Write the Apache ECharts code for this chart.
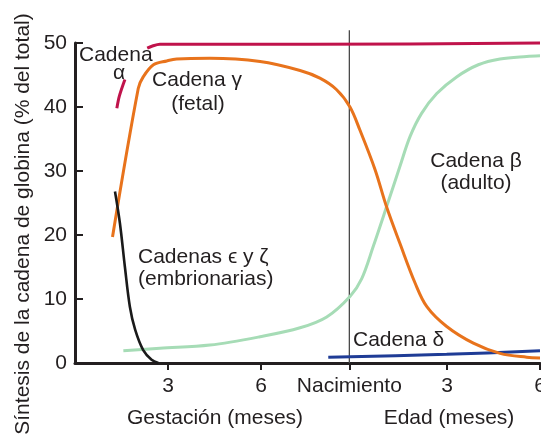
<!DOCTYPE html>
<html style="height: 100%">
<head>
    <meta charset="utf-8">
</head>
<body style="height: 100%; margin: 0; background: #fff">
<div id="container" style="width: 541px; height: 436px"></div>

<script type="text/javascript" src="https://cdn.jsdelivr.net/npm/echarts@6.0.0/dist/echarts.min.js"></script>
<script type="text/javascript">
    // x = months since conception, birth ~ 8.85
    var tickPositions = [3, 6, 8.85, 12, 15];
    var tickLabels = ['3', '6', 'Nacimiento', '3', '6'];
    var birthLine = [[8.85, 0], [8.85, 52]];

    var alphaLow = [[1.35, 39.8], [1.43, 41.7], [1.61, 44.3]];
    var alphaHigh = [[2.33, 49.2], [2.48, 49.5], [2.74, 49.8], [4.03, 49.8], [7.58, 49.8], [15, 50.0]];
    var gamma = [[1.21, 19.7], [2.04, 42.9], [2.20, 44.7], [2.53, 46.6], [2.96, 47.2], [3.28, 47.5],
        [4.35, 47.6], [5.97, 47.1], [7.26, 45.7], [7.90, 44.5], [8.44, 42.7], [8.87, 40.0],
        [9.19, 36.4], [9.68, 30.2], [10.05, 24.4], [10.48, 18.7], [10.97, 12.5], [11.35, 8.8],
        [11.99, 5.7], [12.85, 3.1], [13.71, 1.5], [14.57, 0.9], [15, 0.8]];
    var epsilonZeta = [[1.29, 26.8], [1.45, 21.8], [1.61, 15.0], [1.77, 8.8], [1.94, 5.2],
        [2.20, 2.0], [2.47, 0.5], [2.69, 0]];
    var beta = [[1.56, 1.9], [2.74, 2.3], [4.35, 2.8], [5.97, 4.1], [7.26, 5.5], [8.12, 7.2],
        [8.87, 10.4], [9.25, 13.2], [9.62, 18.2], [10.05, 24.4], [10.48, 30.7], [10.81, 35.4],
        [11.18, 39.0], [11.67, 42.1], [12.31, 44.7], [13.01, 46.6], [13.71, 47.5], [14.57, 47.9],
        [15, 48.0]];
    var delta = [[8.17, 0.9], [11.99, 1.36], [15, 1.9]];

    var dom = document.getElementById("container");
    var myChart = echarts.init(dom);
    var font = 'Liberation Sans, Arial, Helvetica, sans-serif';
    var ink = '#231f20';

    function curve(data, color, width, smooth) {
        return {
            type: 'line',
            data: data,
            showSymbol: false,
            symbol: 'none',
            smooth: smooth,
            silent: true,
            clip: false,
            lineStyle: {color: color, width: width}
        };
    }

    function label(text, x, y, align) {
        return {
            type: 'text',
            x: x,
            y: y,
            style: {
                text: text,
                fontSize: 21,
                fontFamily: font,
                fill: ink,
                align: align || 'center',
                verticalAlign: 'middle'
            }
        };
    }

    var option = {
        animation: false,
        grid: {left: 75, right: 1, top: 43, bottom: 73, containLabel: false, outerBoundsMode: 'none'},
        xAxis: {
            type: 'value',
            min: 0,
            max: 15,
            splitLine: {show: false},
            axisLine: {lineStyle: {color: ink, width: 3}},
            axisTick: {
                customValues: tickPositions,
                length: 7,
                lineStyle: {color: ink, width: 2}
            },
            axisLabel: {
                customValues: tickPositions,
                margin: 13,
                fontSize: 21,
                fontFamily: font,
                color: ink,
                hideOverlap: false,
                formatter: function (v) {
                    var i = tickPositions.indexOf(v);
                    return i < 0 ? '' : tickLabels[i];
                }
            }
        },
        yAxis: {
            type: 'value',
            min: 0,
            max: 50,
            interval: 10,
            splitLine: {show: false},
            axisLine: {show: true, lineStyle: {color: ink, width: 3}},
            axisTick: {show: true, inside: true, length: 8, lineStyle: {color: ink, width: 2}},
            axisLabel: {margin: 8, fontSize: 21, fontFamily: font, color: ink}
        },
        graphic: [
            {
                type: 'text',
                x: 23,
                y: 224,
                rotation: Math.PI / 2,
                style: {
                    text: 'Síntesis de la cadena de globina (% del total)',
                    fontSize: 21,
                    fontFamily: font,
                    fill: ink,
                    align: 'center',
                    verticalAlign: 'middle'
                }
            },
            label('Gestación (meses)', 215, 418),
            label('Edad (meses)', 449, 418),
            label('Cadena', 79, 55, 'left'),
            label('α', 119, 73),
            label('Cadena γ', 197, 80),
            label('(fetal)', 198, 104),
            label('Cadenas ϵ y ζ', 138, 257, 'left'),
            label('(embrionarias)', 138, 279, 'left'),
            label('Cadena β', 476, 161),
            label('(adulto)', 476, 183),
            label('Cadena δ', 353, 340, 'left')
        ],
        series: [
            curve(birthLine, '#4a4a4a', 1.3, false),
            curve(beta, '#a6dcb6', 3, 0.35),
            curve(delta, '#1f3c96', 3, 0.3),
            curve(gamma, '#e8731c', 3, 0.35),
            curve(epsilonZeta, '#1a1a1a', 2.6, 0.35),
            curve(alphaLow, '#c0134b', 3, 0.3),
            curve(alphaHigh, '#c0134b', 3, 0.3)
        ]
    };

    if (option && typeof option === 'object') {
        myChart.setOption(option);
    }
</script>
</body>
</html>
